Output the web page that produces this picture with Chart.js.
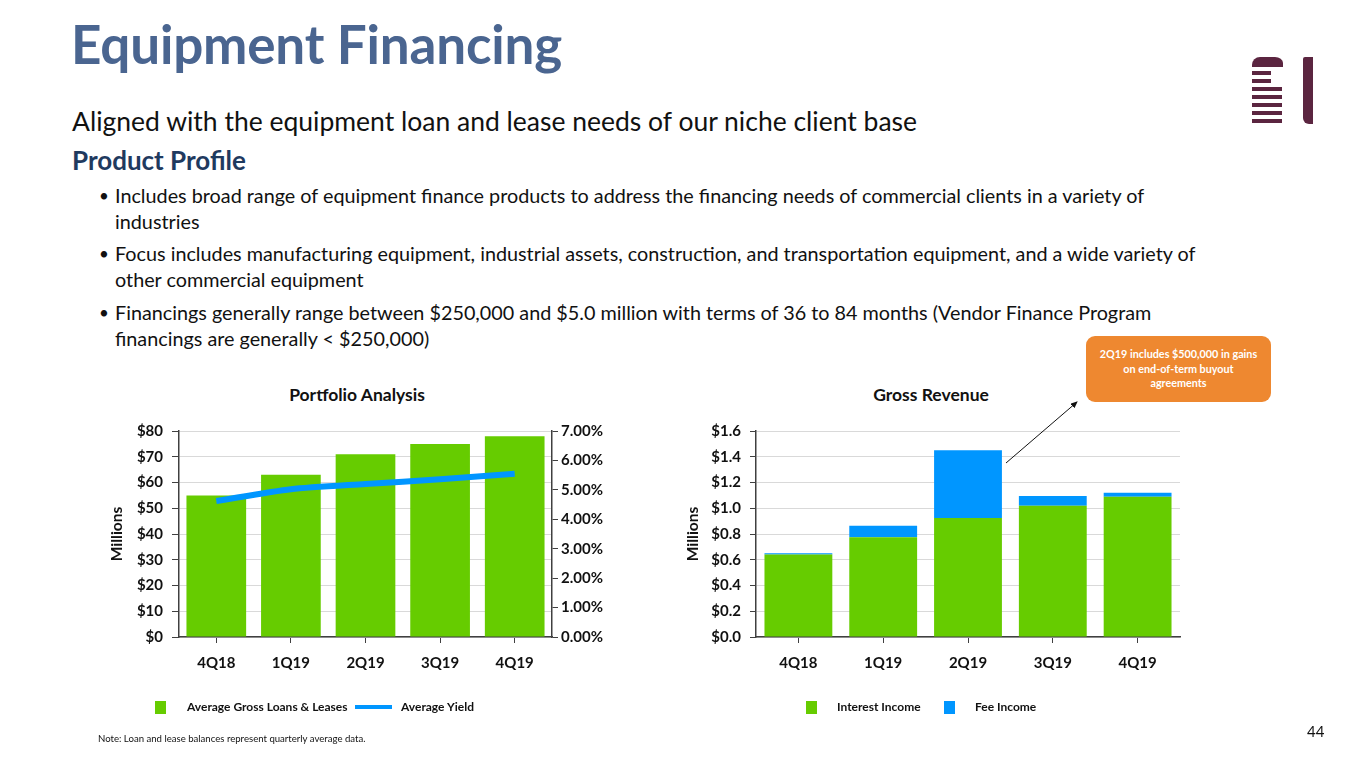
<!DOCTYPE html>
<html>
<head>
<meta charset="utf-8">
<script src="https://cdn.jsdelivr.net/npm/chart.js"></script>
<style>
  body { margin: 0; width: 1365px; height: 768px; background: #fff; font-family: Lato, "Open Sans", sans-serif; position: relative; overflow: hidden; }
  .abs { position: absolute; }
  #title { left: 71px; top: 12px; font-size: 53px; font-weight: 700; color: #4a6590; letter-spacing: -0.2px; white-space: nowrap; }
  #subtitle { left: 72px; top: 105px; font-size: 26.5px; color: #111; white-space: nowrap; }
  #profile { left: 72px; top: 144px; font-size: 26px; font-weight: 700; color: #1f3a5f; white-space: nowrap; }
  .bullet { left: 98px; font-size: 19.8px; color: #111; line-height: 25.5px; white-space: nowrap; }
  .bullet span.dot { position: absolute; left: 1px; font-size: 17px; }
  .bullet div { margin-left: 17px; }
  .ctitle { font-size: 17.5px; font-weight: 700; color: #111; text-align: center; width: 300px; }
  .leg { font-size: 12px; font-weight: 700; color: #111; top: 699px; }
  .sq { width: 11px; height: 13px; top: 701px; }
  #callout { left: 1086px; top: 336px; width: 185px; height: 66px; background: #ee8830; border-radius: 9px; color: #fff; font-size: 10.8px; font-weight: 700; text-align: center; line-height: 14.5px; padding-top: 11px; box-sizing: border-box; }
  #note { left: 98px; top: 733px; font-size: 9.6px; color: #111; }
  #page { left: 1307px; top: 722px; font-size: 15px; color: #111; }
  .lg { background: #5b2540; }
</style>
</head>
<body>
<div id="title" class="abs">Equipment Financing</div>
<div id="subtitle" class="abs">Aligned with the equipment loan and lease needs of our niche client base</div>
<div id="profile" class="abs">Product Profile</div>
<div class="abs bullet" style="top:183px"><span class="dot">•</span><div>Includes broad range of equipment finance products to address the financing needs of commercial clients in a variety of<br>industries</div></div>
<div class="abs bullet" style="top:241px"><span class="dot">•</span><div>Focus includes manufacturing equipment, industrial assets, construction, and transportation equipment, and a wide variety of<br>other commercial equipment</div></div>
<div class="abs bullet" style="top:300px"><span class="dot">•</span><div>Financings generally range between $250,000 and $5.0 million with terms of 36 to 84 months (Vendor Finance Program<br>financings are generally &lt; $250,000)</div></div>

<!-- logo -->
<div class="abs lg" style="left:1252px;top:57px;width:31px;height:10px;border-radius:8px 8px 0 0 / 8px 6px 0 0;"></div>
<div class="abs lg" style="left:1252px;top:71px;width:19px;height:4px"></div>
<div class="abs lg" style="left:1252px;top:79px;width:19px;height:4px"></div>
<div class="abs lg" style="left:1252px;top:87px;width:30px;height:4px"></div>
<div class="abs lg" style="left:1252px;top:95px;width:30px;height:4px"></div>
<div class="abs lg" style="left:1252px;top:103px;width:30px;height:4px"></div>
<div class="abs lg" style="left:1252px;top:111px;width:30px;height:4px"></div>
<div class="abs lg" style="left:1252px;top:119px;width:30px;height:4px"></div>
<div class="abs lg" style="left:1303px;top:57px;width:10px;height:67px;border-radius:2px 0 0 6px"></div>

<div class="abs ctitle" style="left:207px;top:384px">Portfolio Analysis</div>
<div class="abs ctitle" style="left:781px;top:384px">Gross Revenue</div>

<div class="abs" style="left:100px;top:413px;width:520px;height:267px"><canvas id="c1"></canvas></div>
<div class="abs" style="left:680px;top:413px;width:520px;height:267px"><canvas id="c2"></canvas></div>

<div id="callout" class="abs">2Q19 includes $500,000 in gains<br>on end-of-term buyout<br>agreements</div>
<svg class="abs" style="left:0;top:0" width="1365" height="768">
  <defs><marker id="ah" markerWidth="8" markerHeight="8" refX="6" refY="3" orient="auto"><path d="M0,0 L7,3 L0,6 z" fill="#111"/></marker></defs>
  <line x1="1006" y1="463" x2="1077" y2="402" stroke="#111" stroke-width="1" marker-end="url(#ah)"/>
</svg>

<!-- legends -->
<div class="abs sq" style="left:155px;background:#66cc00"></div>
<div class="abs leg" style="left:187px">Average Gross Loans &amp; Leases</div>
<div class="abs" style="left:355px;top:705px;width:37px;height:4px;background:#0096ff"></div>
<div class="abs leg" style="left:401px">Average Yield</div>
<div class="abs sq" style="left:806px;background:#66cc00"></div>
<div class="abs leg" style="left:837px">Interest Income</div>
<div class="abs sq" style="left:944px;background:#0096ff"></div>
<div class="abs leg" style="left:975px">Fee Income</div>

<div id="note" class="abs">Note: Loan and lease balances represent quarterly average data.</div>
<div id="page" class="abs">44</div>

<script>
const quarters = ['4Q18', '1Q19', '2Q19', '3Q19', '4Q19'];
const avgLoans = [55, 63, 71, 75, 78];          // $ millions
const avgYield = [4.62, 5.02, 5.2, 5.36, 5.55];  // %
const interestIncome = [0.64, 0.775, 0.925, 1.02, 1.09]; // $ millions
const feeIncome = [0.01, 0.09, 0.525, 0.075, 0.03];

const GREEN = '#66cc00';
const BLUE = '#0096ff';
const AXIS = '#404040';
const GRID = '#d9d9d9';
const tickFont = { family: 'Lato', size: 15, weight: 'bold' };
const axisTitleFont = { family: 'Lato', size: 15.5, weight: 'bold' };

Chart.defaults.font.family = 'Lato';
Chart.defaults.color = '#111';

new Chart(document.getElementById('c1'), {
  data: {
    labels: quarters,
    datasets: [
      { type: 'line', label: 'Average Yield', data: avgYield, yAxisID: 'y2', borderColor: BLUE, borderWidth: 6, pointRadius: 0, tension: 0.25, order: 0 },
      { type: 'bar', label: 'Average Gross Loans & Leases', data: avgLoans, yAxisID: 'y', backgroundColor: GREEN, barPercentage: 0.8, categoryPercentage: 1, order: 1 }
    ]
  },
  options: {
    responsive: true, maintainAspectRatio: false, animation: false,
    layout: { padding: 0 },
    plugins: { legend: { display: false }, tooltip: { enabled: false } },
    scales: {
      x: {
        grid: { drawOnChartArea: false, offset: false, tickLength: 6, tickColor: AXIS },
        border: { color: AXIS, width: 1.5 },
        ticks: { font: tickFont, color: '#111', padding: 11 },
        afterFit: s => { s.height = 43; }
      },
      y: {
        min: 0, max: 80,
        ticks: { stepSize: 10, font: tickFont, color: '#111', padding: 9, callback: v => '$' + v },
        grid: { color: GRID, tickColor: AXIS, tickLength: 7 },
        border: { color: AXIS, width: 1.5 },
        title: { display: true, text: 'Millions', font: axisTitleFont, color: '#111', padding: { top: 8, bottom: 0 } },
        afterFit: s => { s.width = 79; }
      },
      y2: {
        position: 'right', min: 0, max: 7,
        ticks: { stepSize: 1, font: tickFont, color: '#111', padding: 3, callback: v => v.toFixed(2) + '%' },
        grid: { drawOnChartArea: false, tickColor: AXIS, tickLength: 6 },
        border: { color: AXIS, width: 1.5 },
        afterFit: s => { s.width = 68; }
      }
    }
  }
});

new Chart(document.getElementById('c2'), {
  type: 'bar',
  data: {
    labels: quarters,
    datasets: [
      { label: 'Interest Income', data: interestIncome, backgroundColor: GREEN, barPercentage: 0.8, categoryPercentage: 1 },
      { label: 'Fee Income', data: feeIncome, backgroundColor: BLUE, barPercentage: 0.8, categoryPercentage: 1 }
    ]
  },
  options: {
    responsive: true, maintainAspectRatio: false, animation: false,
    layout: { padding: { top: 0, right: 20, left: 0, bottom: 0 } },
    plugins: { legend: { display: false }, tooltip: { enabled: false } },
    scales: {
      x: {
        stacked: true,
        grid: { drawOnChartArea: false, offset: false, tickLength: 6, tickColor: AXIS },
        border: { color: AXIS, width: 1.5 },
        ticks: { font: tickFont, color: '#111', padding: 11 },
        afterFit: s => { s.height = 43; }
      },
      y: {
        stacked: true, min: 0, max: 1.6,
        ticks: { stepSize: 0.2, font: tickFont, color: '#111', padding: 9, callback: v => '$' + v.toFixed(1) },
        grid: { color: GRID, tickColor: AXIS, tickLength: 6 },
        border: { color: AXIS, width: 1.5 },
        title: { display: true, text: 'Millions', font: axisTitleFont, color: '#111', padding: { top: 4, bottom: 0 } },
        afterFit: s => { s.width = 76; }
      }
    }
  }
});
</script>
</body>
</html>
